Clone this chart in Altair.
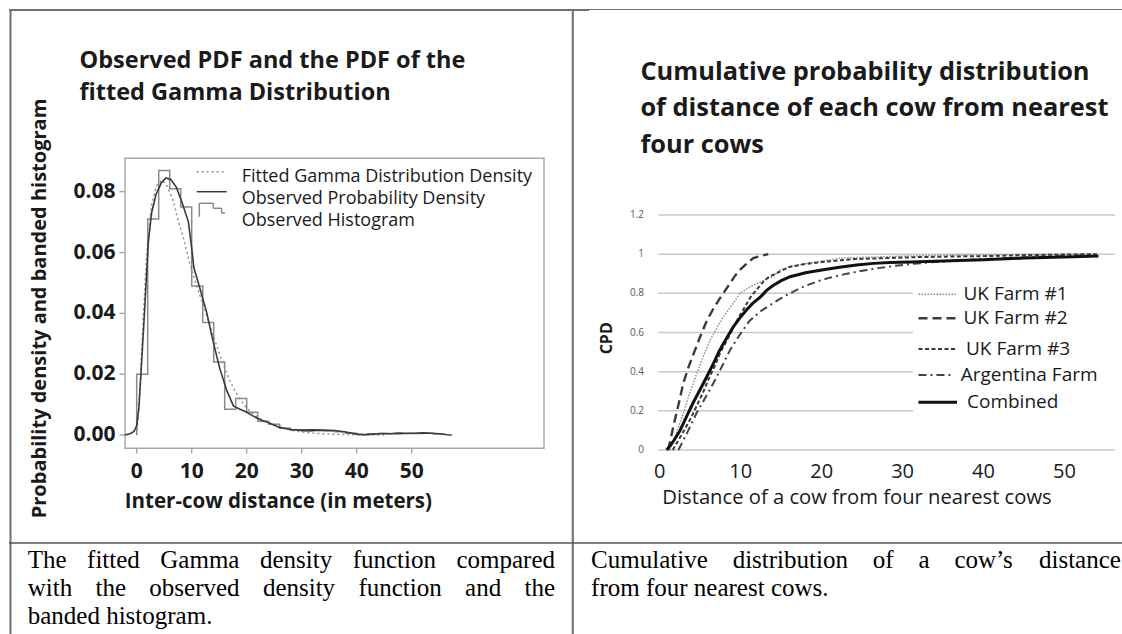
import altair as alt
import pandas as pd

# ------------------------------------------------------------------ data
# Left panel: banded histogram (bin edges / heights), observed density, fitted gamma
hist_edges = [0, 2, 4, 6, 8, 10, 12, 14, 16, 18, 20, 22, 24, 26, 28, 30, 32, 34, 36, 38,
              40, 42, 44, 46, 48, 50, 52, 54, 56]
hist_heights = [0.020, 0.071, 0.087, 0.081, 0.075, 0.049, 0.037, 0.024, 0.0085, 0.012,
                0.0075, 0.0045, 0.0035, 0.0022, 0.0016, 0.0012, 0.0014, 0.0013, 0.0011, 0.0006,
                0.0002, 0.0004, 0.0005, 0.0004, 0.0006, 0.0005, 0.0006, 0.0003]

dens_x = [-2.2, -1.2, -0.5, 0.0, 0.4, 0.9, 1.5, 2.1, 2.7, 3.5, 4.5, 5.3, 6.2, 7.2, 8.2,
          9.4, 10.0, 10.4, 11.5, 12.7, 13.9, 15.1, 16.4, 17.6, 18.8, 20.0, 21.2, 22.5, 24.0,
          26.0, 28.0, 30.0, 32.0, 34.0, 36.0, 38.0, 40.0, 41.5, 43.0, 44.5, 46.0, 47.5, 49.0,
          50.5, 52.0, 53.5, 55.0, 56.5, 57.3]
dens_y = [0.0, 0.0004, 0.0012, 0.003, 0.009, 0.024, 0.043, 0.063, 0.073, 0.079, 0.083,
          0.0845, 0.084, 0.0815, 0.0767, 0.0701, 0.0614, 0.055, 0.0482, 0.0405, 0.0307,
          0.0219, 0.0145, 0.0095, 0.0085, 0.0075, 0.0062, 0.005, 0.004, 0.0025, 0.0018,
          0.0016, 0.0017, 0.0016, 0.0015, 0.001, 0.0003, 0.0001, 0.0003, 0.0005, 0.0004,
          0.0006, 0.0005, 0.0006, 0.0007, 0.0006, 0.0004, 0.0001, 0.0]

gamma_x = [0.0, 0.5, 1.2, 1.8, 2.7, 3.6, 4.6, 5.5, 6.7, 7.6, 8.5, 9.7, 10.9, 12.1, 13.3,
           14.5, 15.8, 17.0, 18.5, 20.0, 22.0, 24.0, 26.0, 28.0, 30.0, 33.0, 36.0, 40.0, 45.0]
gamma_y = [0.0, 0.012, 0.039, 0.059, 0.0756, 0.082, 0.0838, 0.082, 0.0767, 0.070, 0.0647,
           0.056, 0.049, 0.0427, 0.036, 0.0296, 0.023, 0.0175, 0.0125, 0.0088, 0.0058,
           0.0038, 0.0025, 0.0016, 0.001, 0.0005, 0.0002, 0.0001, 0.0]

left_xticks = [0, 10, 20, 30, 40, 50]
left_yticks = [0.0, 0.02, 0.04, 0.06, 0.08]
left_legend = ["Fitted Gamma Distribution Density", "Observed Probability Density",
               "Observed Histogram"]

# Right panel: cumulative distributions
farm_names = ["UK Farm #1", "UK Farm #2", "UK Farm #3", "Argentina Farm", "Combined"]
uk1_x = [1.26, 2.0, 2.9, 3.7, 4.56, 5.4, 6.2, 7.0, 7.85, 8.9, 9.9, 11.0, 12.0, 13.0, 14.0,
         14.85, 16.5, 18.1, 20.0, 22.3, 26.0, 30.0, 35.0, 40.0, 45.0, 50.0, 54.0]
uk1_y = [0.0, 0.08, 0.187, 0.29, 0.39, 0.48, 0.56, 0.62, 0.68, 0.74, 0.80, 0.83, 0.85, 0.87,
         0.885, 0.92, 0.94, 0.953, 0.965, 0.98, 0.985, 0.99, 0.995, 0.997, 0.998, 1.0, 1.0]
uk2_x = [1.05, 1.67, 2.3, 2.9, 3.6, 4.35, 5.0, 5.8, 6.6, 7.44, 8.0, 8.67, 9.3, 9.9, 10.7,
         11.55, 12.4, 13.4]
uk2_y = [0.0, 0.12, 0.23, 0.34, 0.43, 0.51, 0.58, 0.66, 0.72, 0.775, 0.81, 0.85, 0.89, 0.92,
         0.95, 0.98, 0.99, 1.0]
uk3_x = [1.6, 2.3, 3.0, 3.8, 4.5, 5.3, 6.0, 6.8, 7.5, 8.3, 9.0, 9.8, 10.5, 11.2, 12.0, 12.8,
         13.5, 14.3, 16.0, 18.0, 20.0, 24.0, 28.0, 32.0, 36.0, 40.0, 45.0, 50.0, 54.0]
uk3_y = [0.0, 0.05, 0.10, 0.16, 0.22, 0.29, 0.36, 0.43, 0.50, 0.56, 0.62, 0.68, 0.73, 0.78,
         0.82, 0.86, 0.885, 0.90, 0.935, 0.95, 0.96, 0.975, 0.98, 0.985, 0.988, 0.99, 0.995,
         0.998, 1.0]
arg_x = [2.3, 3.4, 4.56, 5.6, 6.6, 7.6, 8.67, 9.9, 11.1, 12.5, 14.0, 15.0, 16.1, 17.5, 19.4,
         21.0, 23.1, 25.0, 27.2, 29.0, 31.0, 34.0, 37.0, 40.0, 44.0, 48.0, 52.0, 54.0]
arg_y = [0.0, 0.09, 0.19, 0.265, 0.34, 0.42, 0.51, 0.59, 0.66, 0.71, 0.75, 0.775, 0.80, 0.83,
         0.86, 0.88, 0.90, 0.915, 0.93, 0.94, 0.95, 0.96, 0.968, 0.975, 0.982, 0.988, 0.993,
         0.995]
comb_x = [0.85, 1.6, 2.5, 3.3, 4.1, 5.0, 5.8, 6.6, 7.4, 8.3, 9.1, 9.9, 10.7, 11.5, 12.4, 13.2,
          14.0, 15.0, 16.1, 18.0, 20.2, 22.2, 24.3, 26.4, 28.4, 31.0, 33.0, 37.0, 40.0, 45.0,
          50.0, 54.2]
comb_y = [0.0, 0.04, 0.10, 0.17, 0.24, 0.31, 0.374, 0.44, 0.51, 0.575, 0.63, 0.675, 0.715,
          0.75, 0.78, 0.815, 0.84, 0.865, 0.885, 0.905, 0.92, 0.933, 0.945, 0.953, 0.958,
          0.96, 0.962, 0.968, 0.972, 0.98, 0.986, 0.99]

right_xticks = [0, 10, 20, 30, 40, 50]
right_yticks = [0.0, 0.2, 0.4, 0.6, 0.8, 1.0, 1.2]

left_title = ["Observed PDF and the PDF of the", "fitted Gamma Distribution"]
right_title = ["Cumulative probability distribution", "of distance of each cow from nearest",
               "four cows"]
left_caption = ["The fitted Gamma density function compared",
                "with the observed density function and the", "banded histogram."]
right_caption = ["Cumulative distribution of a cow\u2019s distance", "from four nearest cows."]

# ------------------------------------------------------------------ helpers
W, H = 1122, 634
one = pd.DataFrame({"k": [0]})
TXT = "#1a1a1a"
SANS = "Open Sans"


def hrule(x1, x2, y, color, width, dash=None, cap="butt"):
    kw = dict(color=color, strokeWidth=width, strokeCap=cap)
    if dash:
        kw["strokeDash"] = dash
    return alt.Chart(one).mark_rule(**kw).encode(
        x=alt.value(x1), x2=alt.value(x2), y=alt.value(y))


def vrule(x, y1, y2, color, width):
    return alt.Chart(one).mark_rule(color=color, strokeWidth=width).encode(
        x=alt.value(x), y=alt.value(y1), y2=alt.value(y2))


def label(txt, x, y, size, weight="normal", align="left", font=SANS, color=TXT,
          angle=None, baseline="middle"):
    kw = dict(font=font, fontSize=size, fontWeight=weight, align=align,
              baseline=baseline, color=color)
    if angle is not None:
        kw["angle"] = angle
    return alt.Chart(one).mark_text(**kw).encode(
        x=alt.value(x), y=alt.value(y), text=alt.value(txt))


# Times / Liberation Serif advance widths (per 1000 em) for justified captions
TNR = {" ": 250, "a": 444, "b": 500, "c": 444, "d": 500, "e": 444, "f": 333, "g": 500,
       "h": 500, "i": 278, "j": 278, "k": 500, "l": 278, "m": 778, "n": 500, "o": 500,
       "p": 500, "q": 500, "r": 333, "s": 389, "t": 278, "u": 500, "v": 500, "w": 722,
       "x": 500, "y": 500, "z": 444, "C": 667, "G": 722, "T": 611, "\u2019": 333, ".": 250}
CAP_SIZE = 25


def tw(s, size):
    return sum(TNR.get(c, 500) for c in s) / 1000.0 * size


def caption(lines, x0, x1, y0, step):
    out = []
    for i, line in enumerate(lines):
        y = y0 + i * step
        words = line.split(" ")
        if i == len(lines) - 1:
            out.append(label(line, x0, y, CAP_SIZE, font="Liberation Serif",
                             baseline="alphabetic", color="#000"))
            continue
        widths = [tw(w, CAP_SIZE) for w in words]
        gap = (x1 - x0 - sum(widths)) / (len(words) - 1)
        x = x0
        for w, wd in zip(words, widths):
            out.append(label(w, x, y, CAP_SIZE, font="Liberation Serif",
                             baseline="alphabetic", color="#000"))
            x += wd + gap
    return out


# ------------------------------------------------------------------ left plot
XL = alt.Scale(domain=[0, 50], range=[136.7, 411.7], nice=False, zero=False)
YL = alt.Scale(domain=[0, 0.08], range=[435, 191.7], nice=False, zero=False)

step_x = [hist_edges[0]] + hist_edges[:-1] + [hist_edges[-1]]
step_y = [0.0] + hist_heights + [hist_heights[-1]]
hist_df = pd.DataFrame({"x": step_x, "y": step_y, "i": list(range(len(step_x)))})
dens_df = pd.DataFrame({"x": dens_x, "y": dens_y})
gamma_df = pd.DataFrame({"x": gamma_x, "y": gamma_y})
lxt = pd.DataFrame({"t": left_xticks})
lyt = pd.DataFrame({"t": left_yticks})

hist = alt.Chart(hist_df).mark_line(interpolate="step-after", color="#8a8a8a",
                                    strokeWidth=1.5).encode(
    x=alt.X("x:Q", scale=XL, axis=None),
    y=alt.Y("y:Q", scale=YL, axis=None),
    order=alt.Order("i:Q"))
dens = alt.Chart(dens_df).mark_line(color="#3a3a3a", strokeWidth=1.6).encode(
    x=alt.X("x:Q", scale=XL, axis=None), y=alt.Y("y:Q", scale=YL, axis=None))
gamma = alt.Chart(gamma_df).mark_line(color="#8f8f8f", strokeWidth=1.5,
                                      strokeDash=[2, 3]).encode(
    x=alt.X("x:Q", scale=XL, axis=None), y=alt.Y("y:Q", scale=YL, axis=None))

lx_ticks = alt.Chart(lxt).mark_rule(color="#a0a0a0", strokeWidth=1.3).encode(
    x=alt.X("t:Q", scale=XL, axis=None), y=alt.value(448.3), y2=alt.value(453.5))
lx_labels = alt.Chart(lxt).mark_text(font=SANS, fontSize=21, fontWeight="bold", color=TXT,
                                     baseline="middle").encode(
    x=alt.X("t:Q", scale=XL, axis=None), y=alt.value(471.7), text=alt.Text("t:Q", format="d"))
ly_ticks = alt.Chart(lyt).mark_rule(color="#a0a0a0", strokeWidth=1.3).encode(
    y=alt.Y("t:Q", scale=YL, axis=None), x=alt.value(119.5), x2=alt.value(125))
ly_labels = alt.Chart(lyt).mark_text(font=SANS, fontSize=21, fontWeight="bold", color=TXT,
                                     baseline="middle", align="right").encode(
    y=alt.Y("t:Q", scale=YL, axis=None), x=alt.value(115.5),
    text=alt.Text("t:Q", format=".2f"))

left_plot = alt.layer(gamma, hist, dens, lx_ticks, lx_labels, ly_ticks, ly_labels)

# ------------------------------------------------------------------ right plot
XR = alt.Scale(domain=[0, 50], range=[659.8, 1064.5], nice=False, zero=False)
YR = alt.Scale(domain=[0, 1.2], range=[450, 215], nice=False, zero=False)

grid_full = pd.DataFrame({"v": [right_yticks[0], right_yticks[5], right_yticks[6]]})
grid_part = pd.DataFrame({"v": right_yticks[1:5]})
rxt = pd.DataFrame({"t": right_xticks})
ryt = pd.DataFrame({"t": right_yticks})

g1 = alt.Chart(grid_full).mark_rule(color="#c9c9c9", strokeWidth=1.5).encode(
    y=alt.Y("v:Q", scale=YR, axis=None), x=alt.value(658), x2=alt.value(1115))
g2 = alt.Chart(grid_part).mark_rule(color="#c9c9c9", strokeWidth=1.5).encode(
    y=alt.Y("v:Q", scale=YR, axis=None), x=alt.value(658), x2=alt.value(913))
ry_labels = alt.Chart(ryt).mark_text(font=SANS, fontSize=10, color="#595959",
                                     baseline="middle", align="right").encode(
    y=alt.Y("t:Q", scale=YR, axis=None), x=alt.value(644), text=alt.Text("t:Q", format="~g"))
rx_labels = alt.Chart(rxt).mark_text(font=SANS, fontSize=20, color=TXT,
                                     baseline="middle").encode(
    x=alt.X("t:Q", scale=XR, axis=None), y=alt.value(471.7), text=alt.Text("t:Q", format="d"))

styles = {
    "UK Farm #1": dict(color="#8a8a8a", strokeWidth=1.4, strokeDash=[1.5, 1.5]),
    "UK Farm #2": dict(color="#3a3a3a", strokeWidth=2.4, strokeDash=[9, 5]),
    "UK Farm #3": dict(color="#3a3a3a", strokeWidth=2.0, strokeDash=[4, 2.5]),
    "Argentina Farm": dict(color="#444444", strokeWidth=2.0, strokeDash=[8, 4, 2, 4]),
    "Combined": dict(color="#111111", strokeWidth=3.0),
}
series = {"UK Farm #1": (uk1_x, uk1_y), "UK Farm #2": (uk2_x, uk2_y),
          "UK Farm #3": (uk3_x, uk3_y), "Argentina Farm": (arg_x, arg_y),
          "Combined": (comb_x, comb_y)}

curves = []
for name in farm_names:
    xs, ys = series[name]
    df = pd.DataFrame({"x": xs, "y": ys})
    curves.append(alt.Chart(df).mark_line(**styles[name]).encode(
        x=alt.X("x:Q", scale=XR, axis=None),
        y=alt.Y("y:Q", scale=YR, axis=None)))
right_plot = alt.layer(g1, g2, *curves, ry_labels, rx_labels)

# ------------------------------------------------------------------ decorations
deco = []
# table lines
deco.append(hrule(9, 589, 10, "#707070", 2))
deco.append(hrule(589, W, 9.5, "#707070", 1.2))
deco.append(vrule(10.5, 9, H, "#707070", 2))
deco.append(vrule(572.8, 9, H, "#777777", 2.2))
deco.append(hrule(9, W, 543, "#555555", 1.5))

# left frame
deco.append(alt.Chart(one).mark_rect(fillOpacity=0, stroke="#a8a8a8", strokeWidth=1.4).encode(
    x=alt.value(125), x2=alt.value(544), y=alt.value(158.3), y2=alt.value(448.3)))

# titles
for i, t in enumerate(left_title):
    deco.append(label(t, 79.5, 60.7 + 32 * i, 23.5, weight="bold"))
for i, t in enumerate(right_title):
    deco.append(label(t, 640.4, 71.7 + 36.7 * i, 25.4, weight="bold"))

# axis titles
deco.append(label("Probability density and banded histogram", 40, 308.5, 20,
                  weight="bold", align="center", angle=270))
deco.append(label("Inter-cow distance (in meters)", 278.4, 501.7, 20.5, weight="bold",
                  align="center"))
deco.append(label("CPD", 607, 338.3, 16, weight="bold", align="center", angle=270))
deco.append(label("Distance of a cow from four nearest cows", 857, 498.3, 20.2,
                  align="center"))

# left legend
deco.append(hrule(196.7, 226.7, 171.7, "#8f8f8f", 1.5, dash=[2, 3]))
deco.append(hrule(196.7, 226.7, 191.7, "#3a3a3a", 1.5))
for (xa, xb, yy) in [(199.3, 213.3, 203.3), (213.3, 221.7, 208.3), (221.7, 225.0, 213.0)]:
    deco.append(hrule(xa, xb, yy, "#8a8a8a", 1.5))
for (xx, ya, yb) in [(199.3, 203.3, 216.7), (213.3, 203.3, 208.3), (221.7, 208.3, 213.0)]:
    deco.append(vrule(xx, ya, yb, "#8a8a8a", 1.5))
for t, yy in zip(left_legend, [176.7, 199.3, 221.0]):
    deco.append(label(t, 241.7, yy, 18))

# right legend
leg_rows = [294.3, 318.3, 349.0, 375.0, 402.3]
leg_lab_x = [963.5, 963.5, 966.0, 960.7, 967.0]
leg_end = [957, 957, 957, 952, 957]
for name, yy, lx, xe in zip(farm_names, leg_rows, leg_lab_x, leg_end):
    st = styles[name]
    deco.append(hrule(918.5, xe, yy, st["color"], st["strokeWidth"], dash=st.get("strokeDash")))
    deco.append(label(name, lx, yy, 19))

# captions
deco += caption(left_caption, 27.7, 555.0, 567.5, 28.2)
deco += caption(right_caption, 591.1, 1120.9, 567.5, 28.2)

chart = alt.layer(*deco, left_plot, right_plot).resolve_scale(
    x="independent", y="independent"
).properties(
    width=W, height=H, padding=0, autosize=alt.AutoSizeParams(type="none")
).configure_view(stroke="transparent")

chart.save("out.html", embed_options={"renderer": "svg", "actions": False})
